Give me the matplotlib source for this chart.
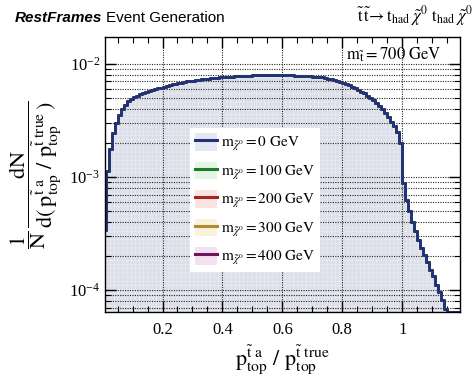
import numpy as np
import matplotlib
matplotlib.use("Agg")
import matplotlib.pyplot as plt
from matplotlib.patches import Rectangle
from matplotlib.lines import Line2D
from matplotlib.ticker import MultipleLocator, LogLocator, NullFormatter

# ---- data: normalised distribution, bins of 0.01 from 0 to 1.2 (units of 1e-3) ----
bin_width = 0.01
density_e3 = [
    0.339, 1.122, 1.778, 2.455, 3.020, 3.548, 3.981, 4.365, 4.677, 4.898,
    5.070, 5.248, 5.370, 5.495, 5.623, 5.754, 5.888, 6.026, 6.095, 6.166,
    6.310, 6.383, 6.457, 6.607, 6.683, 6.761, 6.839, 6.918, 6.998, 7.079,
    7.112, 7.161, 7.244, 7.295, 7.345, 7.396, 7.447, 7.499, 7.551, 7.586,
    7.621, 7.656, 7.691, 7.727, 7.762, 7.798, 7.834, 7.852, 7.870, 7.889,
    7.907, 7.925, 7.943, 7.943, 7.943, 7.943, 7.943, 7.943, 7.943, 7.943,
    7.943, 7.943, 7.925, 7.907, 7.889, 7.870, 7.852, 7.834, 7.798, 7.762,
    7.727, 7.691, 7.656, 7.586, 7.499, 7.413, 7.328, 7.244, 7.079, 6.918,
    6.761, 6.607, 6.457, 6.310, 6.095, 5.888, 5.689, 5.495, 5.248, 5.012,
    4.786, 4.519, 4.266, 3.981, 3.715, 3.388, 3.090, 2.818, 2.512, 1.995,
    0.891, 0.631, 0.501, 0.398, 0.331, 0.275, 0.234, 0.204, 0.178, 0.151,
    0.132, 0.112, 0.0955, 0.0813, 0.0676, 0.0, 0.0, 0.0, 0.0, 0.0,
]
# the five LSP-mass samples are indistinguishable at this scale
chi_masses = [0, 100, 200, 300, 400]
line_colors = ["#23307a", "#1e7b2a", "#a0281e", "#b08a30", "#6e1460"]
fill_colors = ["#e4e7f4", "#e3f5e3", "#fbe3e3", "#fbf2dc", "#f4e0ef"]
stack_fill = "#dcdee8"   # what the overlapping pale fills add up to
stop_mass = 700

YMIN, YMAX = 6.4e-5, 1.73e-2

plt.rcParams["font.family"] = ["Liberation Serif", "DejaVu Serif"]
plt.rcParams["mathtext.fontset"] = "stix"
plt.rcParams["hatch.linewidth"] = 0.4
plt.rcParams["hatch.color"] = "#eceef5"

fig = plt.figure(figsize=(4.72, 3.81), dpi=100)
ax = fig.add_axes([105 / 472, 1 - 312 / 381, 355 / 472, 275 / 381])

vals = np.array(density_e3) * 1e-3
edges = np.arange(len(vals) + 1) * bin_width
shown = np.clip(vals, YMIN, None)
ys = np.append(shown, shown[-1])

ax.fill_between(edges, YMIN, ys, step="post", facecolor=stack_fill, hatch="++++",
                edgecolor="#eceef5", lw=0, zorder=1)
for m, c in list(zip(chi_masses, line_colors))[::-1]:
    ax.step(edges, ys, where="post", color=c, lw=2.0, zorder=3)

ax.set_yscale("log")
ax.set_xlim(0.008, 1.193)
ax.set_ylim(YMIN, YMAX)

ax.xaxis.set_minor_locator(MultipleLocator(0.05))
ax.set_xticks([0.2, 0.4, 0.6, 0.8, 1.0])
ax.set_xticklabels(["0.2", "0.4", "0.6", "0.8", "1"])
ax.yaxis.set_major_locator(LogLocator(base=10))
ax.yaxis.set_minor_locator(LogLocator(base=10, subs=np.arange(2, 10)))
ax.yaxis.set_minor_formatter(NullFormatter())
ax.tick_params(which="both", direction="in", top=True, right=True, labelsize=12)
ax.tick_params(which="major", length=8, width=1.0)
ax.tick_params(which="minor", length=4, width=0.8)
ax.tick_params(axis="x", pad=7)

ax.grid(True, axis="x", which="major", color="0.15", ls=(0, (1, 1.2)), lw=0.8)
ax.grid(True, axis="y", which="both", color="0.15", ls=(0, (1, 1.2)), lw=0.8)
ax.set_axisbelow(False)
for s in ax.spines.values():
    s.set_linewidth(1.0)
    s.set_zorder(5)

ax.set_xlabel(r"$\mathrm{p}_{\mathrm{top}}^{\tilde{\mathrm{t}}\ \mathrm{a}}\ /\ \mathrm{p}_{\mathrm{top}}^{\tilde{\mathrm{t}}\ \mathrm{true}}$",
              fontsize=16, labelpad=4)
ax.set_ylabel(r"$\dfrac{1}{\mathrm{N}}\,\dfrac{\mathrm{dN}}{\mathrm{d}(\,\mathrm{p}_{\mathrm{top}}^{\tilde{\mathrm{t}}\ \mathrm{a}}\ /\ \mathrm{p}_{\mathrm{top}}^{\tilde{\mathrm{t}}\ \mathrm{true}}\,)}$",
              fontsize=16, labelpad=4)

ax.text(0.68, 0.935, r"$\mathrm{m}_{\tilde{\mathrm{t}}} = %d\ \mathrm{GeV}$" % stop_mass,
        transform=ax.transAxes, fontsize=12, ha="left", va="center", zorder=6)

# header texts
fig.text(15 / 472, 1 - 22 / 381, "RestFrames", fontsize=11, family="Liberation Sans",
         weight="bold", style="italic", ha="left", va="baseline")
fig.text(106 / 472, 1 - 22 / 381, "Event Generation", fontsize=11, family="Liberation Sans",
         ha="left", va="baseline")
fig.text(357 / 472, 1 - 22 / 381,
         r"$\tilde{\mathrm{t}}\,\tilde{\mathrm{t}}\!\rightarrow \mathrm{t}_{\mathrm{had}}\ \tilde{\chi}^{0}\ \mathrm{t}_{\mathrm{had}}\ \tilde{\chi}^{0}$",
         fontsize=12, ha="left", va="baseline")

# legend
handles = [(Rectangle((0, 0), 1, 1, facecolor=fc, edgecolor="none"),
            Line2D([], [], color=c, lw=2.2))
           for c, fc in zip(line_colors, fill_colors)]
labels = [r"$\mathrm{m}_{\tilde{\chi}^{0}} = %d\ \mathrm{GeV}$" % m for m in chi_masses]
leg = ax.legend(handles, labels, loc="upper left", bbox_to_anchor=(0.239, 0.669),
                fontsize=11, frameon=True, fancybox=False, edgecolor="none",
                framealpha=1.0, handlelength=1.4, handleheight=1.4, labelspacing=0.55,
                borderpad=0.35, handletextpad=0.3, borderaxespad=0)
leg.set_zorder(7)

fig.savefig("out.png", dpi=100)
